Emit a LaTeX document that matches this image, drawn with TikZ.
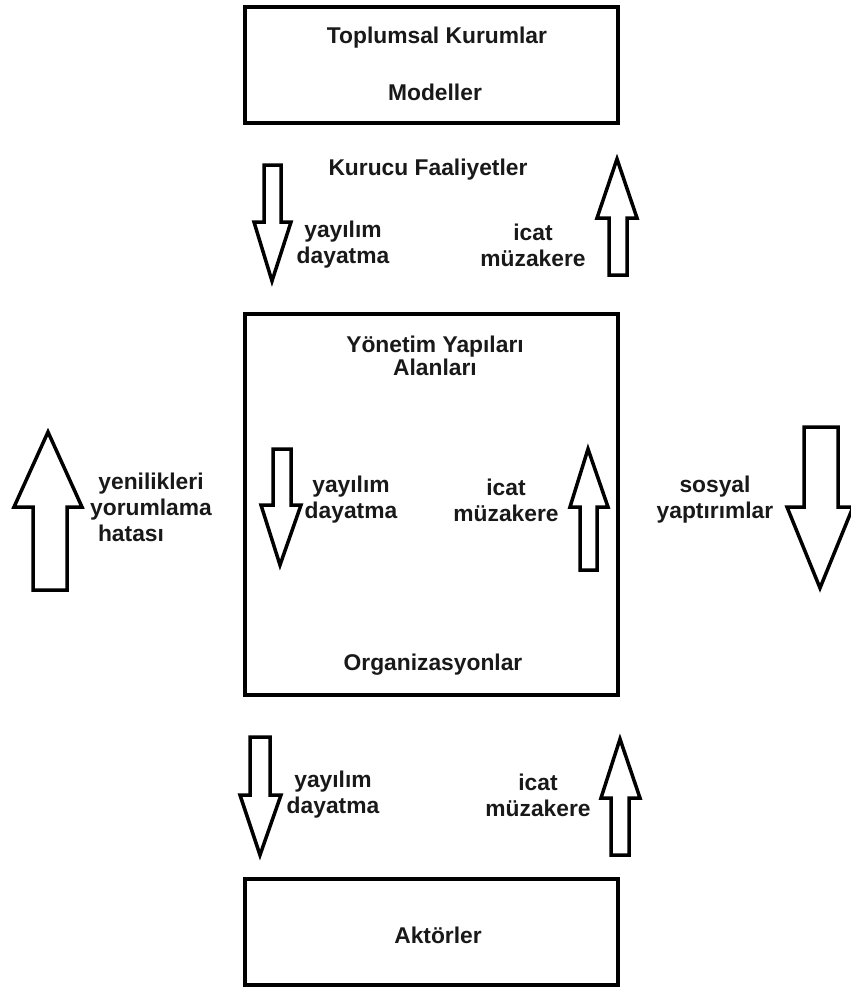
\documentclass[tikz,border=0pt]{standalone}
\usepackage{fontspec}
\setmainfont{Liberation Sans}
\begin{document}
\begin{tikzpicture}[x=1pt,y=-1pt,
  box/.style={draw=black,line width=4.5pt,fill=white},
  fatarrow/.style={draw=black,line width=3.5pt,fill=white,line join=miter},
  lbl/.style={inner sep=0pt,align=center,text=black!90,
    font=\fontsize{22.8}{26}\selectfont\bfseries}]
\useasboundingbox (0,0) rectangle (851,994);

% three layer boxes
\draw[box] (245,7) rectangle (618,123);
\draw[box] (245,314) rectangle (618,695);
\draw[box] (245,879) rectangle (618,985);

% box titles
\node[lbl] (inst)  at (437,38)  {Toplumsal Kurumlar};
\node[lbl] (model) at (435,92)  {Modeller};
\node[lbl] (kur)   at (428,170) {Kurucu Faaliyetler};
\node[lbl,font=\fontsize{22.8}{23}\selectfont\bfseries] (gov) at (435,356) {Yönetim Yapıları\\Alanları};
\node[lbl] (org)   at (433,665) {Organizasyonlar};
\node[lbl] (akt)   at (438,935) {Aktörler};

% block arrows: institutions <-> fields
\draw[fatarrow] (264,165) -- (281,165) -- (281,222) -- (291,222) -- (272,281) -- (254,222) -- (264,222) -- cycle;
\draw[fatarrow] (617,159) -- (637,218) -- (627,218) -- (627,275) -- (609,275) -- (609,218) -- (597,218) -- cycle;
\node[lbl] (dif1) at (343,245) {yayılım\\dayatma};
\node[lbl] (inv1) at (533,245) {icat\\müzakere};

% block arrows inside the fields box
\draw[fatarrow] (273,449) -- (291,449) -- (291,505) -- (301,505) -- (280,565) -- (261,505) -- (273,505) -- cycle;
\draw[fatarrow] (588,449) -- (608,507) -- (597,507) -- (597,570) -- (580,570) -- (580,507) -- (570,507) -- cycle;
\node[lbl] (dif2) at (351,500) {yayılım\\dayatma};
\node[lbl] (inv2) at (506,500) {icat\\müzakere};

% side arrows
\draw[fatarrow] (48,432) -- (82,507) -- (67,507) -- (67,590) -- (33,590) -- (33,507) -- (14,507) -- cycle;
\node[lbl] (err) at (151,507) {yenilikleri\\yorumlama\\hatası\hspace*{40pt}};
\draw[fatarrow] (804,427) -- (838,427) -- (838,507) -- (853,507) -- (820,588) -- (787,507) -- (804,507) -- cycle;
\node[lbl] (san) at (715,500) {sosyal\\yaptırımlar};

% block arrows: organizations <-> actors
\draw[fatarrow] (250,737) -- (270,737) -- (270,795) -- (281,795) -- (260,855) -- (240,795) -- (250,795) -- cycle;
\draw[fatarrow] (620,739) -- (640,798) -- (629,798) -- (629,855) -- (611,855) -- (611,798) -- (601,798) -- cycle;
\node[lbl] (dif3) at (333,795) {yayılım\\dayatma};
\node[lbl] (inv3) at (538,795) {icat\\müzakere};
\end{tikzpicture}
\end{document}
